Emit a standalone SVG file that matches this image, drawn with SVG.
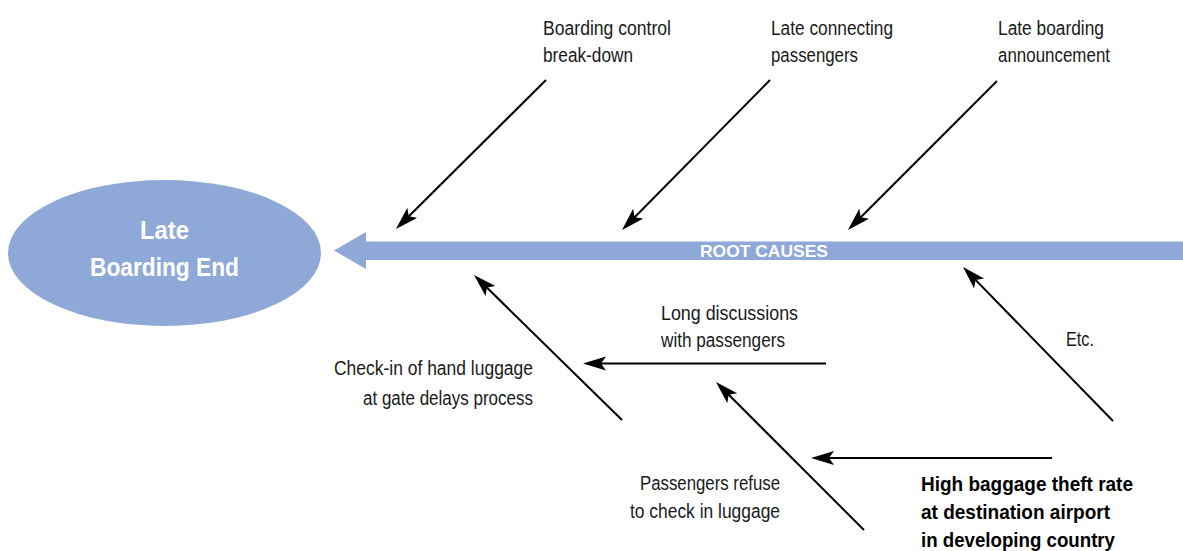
<svg xmlns="http://www.w3.org/2000/svg" width="1183" height="551" viewBox="0 0 1183 551">
<style>
.lbl{font-family:"Liberation Sans",Arial,sans-serif;font-size:20px;fill:#1a1a1a}
.bold{font-weight:bold;font-size:21px;fill:#000}
.white{fill:#ffffff;font-family:"Liberation Sans",Arial,sans-serif}
.conn{stroke:#000;stroke-width:2;fill:none;marker-end:url(#ah)}
</style>
<defs>
<marker id="ah" markerUnits="userSpaceOnUse" markerWidth="24" markerHeight="16" refX="19" refY="7" orient="auto">
<path d="M23,7 L0,0 L5,7 L0,14 Z" fill="#000"/>
</marker>
</defs>
<rect width="1183" height="551" fill="#ffffff"/>
<g id="effect">
<ellipse cx="164.5" cy="253" rx="156.5" ry="73" fill="#8EA9D8"/>
<text class="white" x="164.5" y="239" text-anchor="middle" font-size="25" font-weight="bold" textLength="49" lengthAdjust="spacingAndGlyphs">Late</text>
<text class="white" x="164.5" y="276" text-anchor="middle" font-size="25" font-weight="bold" textLength="149" lengthAdjust="spacingAndGlyphs">Boarding End</text>
</g>
<g id="spine">
<path d="M334,250.5 L366,232 L366,241.5 L1183,241.5 L1183,260 L366,260 L366,269 Z" fill="#8EA9D8"/>
<text class="white" x="700" y="257" font-size="17" font-weight="bold" textLength="128" lengthAdjust="spacingAndGlyphs">ROOT CAUSES</text>
</g>
<g id="connectors">
<line class="conn" x1="546" y1="80" x2="398.8" y2="226.2"/>
<line class="conn" x1="770" y1="80" x2="624.8" y2="227.2"/>
<line class="conn" x1="997" y1="81" x2="850.8" y2="227.2"/>
<line class="conn" x1="622" y1="420" x2="476.9" y2="277.8"/>
<line class="conn" x1="826" y1="363.5" x2="587" y2="363.5"/>
<line class="conn" x1="864" y1="530" x2="718.8" y2="384.8"/>
<line class="conn" x1="1052" y1="458" x2="815" y2="458"/>
<line class="conn" x1="1113" y1="421" x2="965.8" y2="269.9"/>
</g>
<g id="cause-boarding-control">
<text class="lbl" x="543" y="35" textLength="128" lengthAdjust="spacingAndGlyphs">Boarding control</text>
<text class="lbl" x="543" y="62" textLength="90" lengthAdjust="spacingAndGlyphs">break-down</text>
</g>
<g id="cause-late-connecting">
<text class="lbl" x="771" y="35" textLength="122" lengthAdjust="spacingAndGlyphs">Late connecting</text>
<text class="lbl" x="771" y="62" textLength="87" lengthAdjust="spacingAndGlyphs">passengers</text>
</g>
<g id="cause-late-announcement">
<text class="lbl" x="998" y="35" textLength="106" lengthAdjust="spacingAndGlyphs">Late boarding</text>
<text class="lbl" x="998" y="62" textLength="112" lengthAdjust="spacingAndGlyphs">announcement</text>
</g>
<g id="cause-check-in">
<text class="lbl" x="533" y="375" text-anchor="end" textLength="199" lengthAdjust="spacingAndGlyphs">Check-in of hand luggage</text>
<text class="lbl" x="533" y="405" text-anchor="end" textLength="170" lengthAdjust="spacingAndGlyphs">at gate delays process</text>
</g>
<g id="cause-long-discussions">
<text class="lbl" x="661" y="320" textLength="137" lengthAdjust="spacingAndGlyphs">Long discussions</text>
<text class="lbl" x="661" y="347" textLength="124" lengthAdjust="spacingAndGlyphs">with passengers</text>
</g>
<g id="cause-passengers-refuse">
<text class="lbl" x="780" y="490" text-anchor="end" textLength="140" lengthAdjust="spacingAndGlyphs">Passengers refuse</text>
<text class="lbl" x="780" y="518" text-anchor="end" textLength="150" lengthAdjust="spacingAndGlyphs">to check in luggage</text>
</g>
<g id="cause-etc">
<text class="lbl" x="1066" y="346" textLength="28" lengthAdjust="spacingAndGlyphs">Etc.</text>
</g>
<g id="cause-theft">
<text class="lbl bold" x="921" y="491" textLength="212" lengthAdjust="spacingAndGlyphs">High baggage theft rate</text>
<text class="lbl bold" x="921" y="519" textLength="189" lengthAdjust="spacingAndGlyphs">at destination airport</text>
<text class="lbl bold" x="921" y="547" textLength="194" lengthAdjust="spacingAndGlyphs">in developing country</text>
</g>
</svg>
